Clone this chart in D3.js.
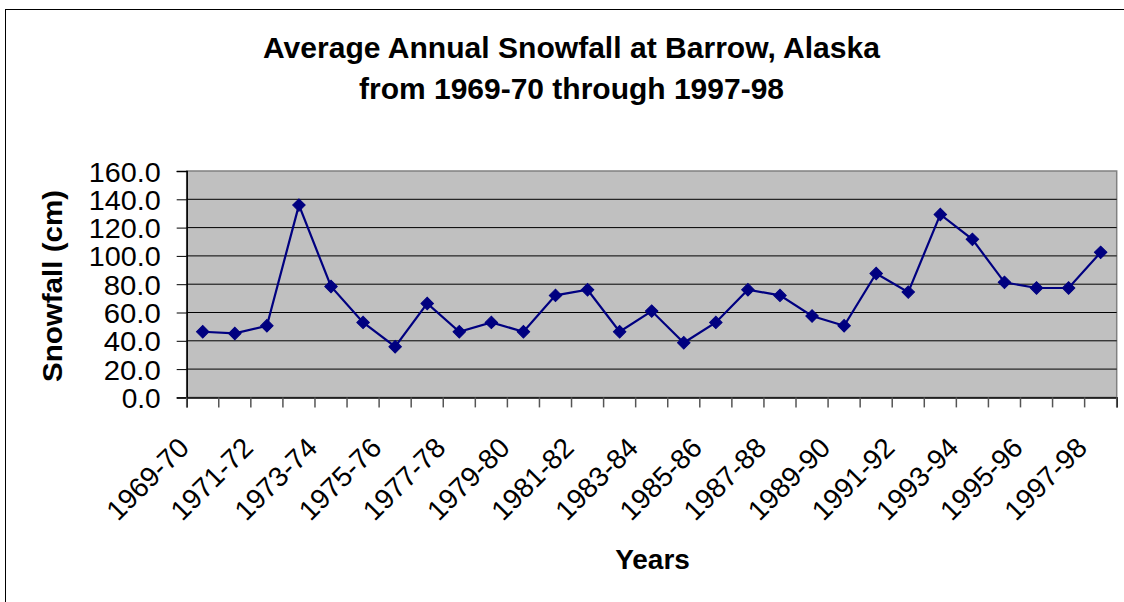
<!DOCTYPE html>
<html>
<head>
<meta charset="utf-8">
<script src="https://cdn.jsdelivr.net/npm/d3@7"></script>
<style>
  html, body { margin: 0; padding: 0; background: #fff; }
  svg { display: block; font-family: "Liberation Sans", Arial, sans-serif; }
</style>
</head>
<body>
<svg id="chart" width="1124" height="602"></svg>
<script>
const categories = ["1969-70","1970-71","1971-72","1972-73","1973-74","1974-75","1975-76","1976-77","1977-78","1978-79","1979-80","1980-81","1981-82","1982-83","1983-84","1984-85","1985-86","1986-87","1987-88","1988-89","1989-90","1990-91","1991-92","1992-93","1993-94","1994-95","1995-96","1996-97","1997-98"];
const snowfall = [46.4,45.2,50.6,135.9,78.4,53.0,35.8,66.4,46.4,53.0,46.4,72.1,76.1,46.4,61.0,38.6,53.0,76.1,72.1,57.5,50.6,87.6,74.4,129.3,111.7,81.3,77.3,77.3,102.5];
const yTicks = [0,20,40,60,80,100,120,140,160];
const titleLines = ["Average Annual Snowfall at Barrow, Alaska", "from 1969-70 through 1997-98"];
const xTitle = "Years";
const yTitle = "Snowfall (cm)";

const svg = d3.select("#chart");
const plot = {left: 186.7, right: 1116.7, top: 171, bottom: 397.4};

// outer border
svg.append("rect").attr("x", 5.5).attr("y", 9.5).attr("width", 1130).attr("height", 620)
  .attr("fill", "#fff").attr("stroke", "#000").attr("stroke-width", 1);

const x = d3.scaleBand().domain(categories).range([plot.left, plot.right]).padding(0);
const y = d3.scaleLinear().domain([0, 160]).range([plot.bottom, plot.top]);

// plot background
svg.append("rect").attr("x", plot.left).attr("y", plot.top)
  .attr("width", plot.right - plot.left).attr("height", plot.bottom - plot.top)
  .attr("fill", "#c0c0c0").attr("stroke", "#808080").attr("stroke-width", 1.5);

// gridlines
svg.append("g").selectAll("line").data(yTicks.filter(d => d > 0 && d < 160)).join("line")
  .attr("x1", plot.left).attr("x2", plot.right)
  .attr("y1", d => y(d)).attr("y2", d => y(d))
  .attr("stroke", "#000").attr("stroke-width", 1);

// y axis
const fmt = d3.format(".1f");
const yAxis = d3.axisLeft(y).tickValues(yTicks).tickFormat(fmt).tickSize(10).tickPadding(16);
const gy = svg.append("g").attr("transform", `translate(${plot.left},0)`).call(yAxis);
gy.select(".domain").attr("stroke", "#000").attr("stroke-width", 1.5);
gy.selectAll(".tick line").attr("stroke", "#000").attr("stroke-width", 1);
gy.selectAll(".tick text").attr("font-size", 28).attr("fill", "#000")
  .attr("font-family", "Liberation Sans, Arial, sans-serif").attr("dy", "0.36em")
  .attr("textLength", d => { const n = fmt(d).length; return n === 5 ? 72 : n === 4 ? 57 : 39; })
  .attr("lengthAdjust", "spacingAndGlyphs");

// x axis
const xAxis = d3.axisBottom(x).tickSize(10).tickFormat("");
const gx = svg.append("g").attr("transform", `translate(0,${plot.bottom})`).call(xAxis);
gx.select(".domain").attr("stroke", "#000").attr("stroke-width", 1.5);
gx.selectAll(".tick").remove();
// ticks at band boundaries
const bounds = categories.map(c => x(c)).concat([x(categories[categories.length-1]) + x.bandwidth()]);
gx.append("g").selectAll("line").data(bounds).join("line")
  .attr("x1", d => d).attr("x2", d => d).attr("y1", 0).attr("y2", 10)
  .attr("stroke", "#555").attr("stroke-width", 1.5);

// x labels (every other)
svg.append("g").selectAll("text").data(categories.filter((d, i) => i % 2 === 0)).join("text")
  .attr("transform", d => `translate(${x(d) + x.bandwidth()/2 - 12},${plot.bottom + 52}) rotate(-45)`)
  .attr("text-anchor", "end")
  .attr("font-size", 28).attr("fill", "#000")
  .text(d => d);

// line
const line = d3.line().x((d, i) => x(categories[i]) + x.bandwidth()/2).y(d => y(d));
svg.append("path").datum(snowfall).attr("d", line)
  .attr("fill", "none").attr("stroke", "#000080").attr("stroke-width", 2.2);

// markers (diamonds)
svg.append("g").selectAll("path").data(snowfall).join("path")
  .attr("transform", (d, i) => `translate(${x(categories[i]) + x.bandwidth()/2},${y(d)}) rotate(45)`)
  .attr("d", d3.symbol().type(d3.symbolSquare).size(78))
  .attr("fill", "#000080").attr("stroke", "#000080").attr("stroke-width", 1);

// title
const title = svg.append("g");
title.selectAll("text").data(titleLines).join("text")
  .attr("x", 571.5).attr("y", (d, i) => 58 + i * 41)
  .attr("text-anchor", "middle").attr("font-weight", "bold").attr("font-size", 29)
  .attr("textLength", (d, i) => i === 0 ? 617 : 425).attr("lengthAdjust", "spacingAndGlyphs")
  .text(d => d);

// axis titles
svg.append("text").attr("x", 652.5).attr("y", 569)
  .attr("text-anchor", "middle").attr("font-weight", "bold").attr("font-size", 28)
  .text(xTitle);
svg.append("text").attr("transform", "translate(62,286) rotate(-90)")
  .attr("text-anchor", "middle").attr("font-weight", "bold").attr("font-size", 28)
  .attr("textLength", 192).attr("lengthAdjust", "spacingAndGlyphs")
  .text(yTitle);
</script>
</body>
</html>
